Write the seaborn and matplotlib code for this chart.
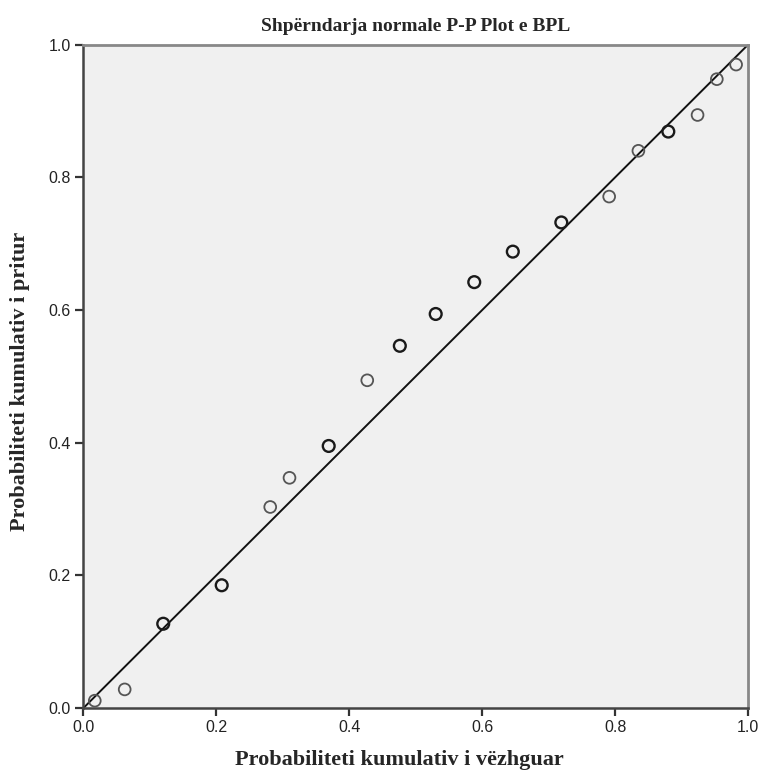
import numpy as np
import pandas as pd
import matplotlib
matplotlib.use("Agg")
import matplotlib.pyplot as plt
import seaborn as sns

# observed vs expected cumulative probability
observed = [0.017, 0.062, 0.120, 0.208, 0.281, 0.310, 0.369, 0.427, 0.476, 0.530,
            0.588, 0.646, 0.719, 0.791, 0.835, 0.880, 0.924, 0.953, 0.982]
expected = [0.011, 0.028, 0.127, 0.185, 0.303, 0.347, 0.395, 0.494, 0.546, 0.594,
            0.642, 0.688, 0.732, 0.771, 0.840, 0.869, 0.894, 0.948, 0.970]
# points drawn darker in the original (overlapping cases)
heavy = [0, 0, 1, 1, 0, 0, 1, 0, 1, 1, 1, 1, 1, 0, 0, 1, 0, 0, 0]

TITLE = "Shpërndarja normale P-P Plot e BPL"
XLABEL = "Probabiliteti kumulativ i vëzhguar"
YLABEL = "Probabiliteti kumulativ i pritur"
TICKS = [0.0, 0.2, 0.4, 0.6, 0.8, 1.0]

df = pd.DataFrame({"observed": observed, "expected": expected,
                   "heavy": np.array(heavy, dtype=bool)})

sns.set_style("white")
plt.rcParams["font.family"] = ["Liberation Sans", "DejaVu Sans"]

fig = plt.figure(figsize=(7.61, 7.81), dpi=100)
ax = fig.add_axes([0.1097, 0.0935, 0.8733, 0.8493])
ax.set_facecolor("#f0f0f0")

# reference diagonal
sns.lineplot(x=[0, 1], y=[0, 1], ax=ax, color="#111111", linewidth=1.4, zorder=2)

light = df[~df["heavy"]]
dark = df[df["heavy"]]
sns.scatterplot(data=light, x="observed", y="expected", ax=ax, marker="o", s=72,
                facecolor="none", edgecolor="#555555", linewidth=1.3, zorder=3)
sns.scatterplot(data=dark, x="observed", y="expected", ax=ax, marker="o", s=72,
                facecolor="none", edgecolor="#1a1a1a", linewidth=1.7, zorder=3)

ax.set_xlim(0, 1)
ax.set_ylim(0, 1)
ax.set_xticks(TICKS)
ax.set_yticks(TICKS)
ax.set_xticklabels([f"{t:.1f}" for t in TICKS], fontsize=11.5, color="#222222")
ax.set_yticklabels([f"{t:.1f}" for t in TICKS], fontsize=11.5, color="#222222")
ax.tick_params(axis="both", direction="out", length=6, width=1.6, color="#333333",
               bottom=True, left=True, pad=3)

for side in ["top", "right"]:
    ax.spines[side].set_color("#888888")
    ax.spines[side].set_linewidth(2)
for side in ["left", "bottom"]:
    ax.spines[side].set_color("#444444")
    ax.spines[side].set_linewidth(1.8)

serif = ["Liberation Serif", "DejaVu Serif"]
ax.set_title(TITLE, fontsize=14, fontweight="bold", family=serif, pad=10)
ax.set_xlabel(XLABEL, fontsize=16, fontweight="bold", family=serif)
ax.set_ylabel(YLABEL, fontsize=16, fontweight="bold", family=serif)
ax.xaxis.set_label_coords(0.475, -0.078)
ax.yaxis.set_label_coords(-0.096, 0.493)
ax.xaxis.label.set_va("center")
ax.yaxis.label.set_va("center")

fig.savefig("out.png", dpi=100)
